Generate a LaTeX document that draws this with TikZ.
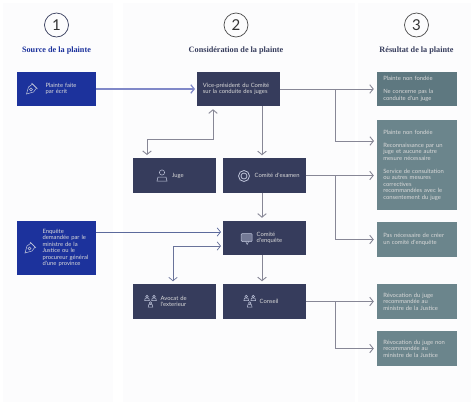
\documentclass[tikz,border=0pt]{standalone}
\usepackage{fontspec}
\setmainfont{Liberation Serif}
\newfontfamily\bodyfont{Lato}
\usetikzlibrary{arrows.meta, positioning, calc}
\definecolor{paper1}{RGB}{252, 252, 253}
\definecolor{blue1}{RGB}{28, 50, 156}
\definecolor{navy1}{RGB}{54, 60, 92}
\definecolor{teal1}{RGB}{94, 120, 128}
\definecolor{teal2}{RGB}{107, 133, 140}
\definecolor{line1}{RGB}{135, 135, 150}
\definecolor{line2}{RGB}{128, 136, 200}
\definecolor{line3}{RGB}{92, 106, 156}
\definecolor{stroke1}{RGB}{190, 196, 218}
\tikzset{
  pics/nib/.style={code={
    \draw[iconline] (-5,5) -- (-3,-2) -- (1,-5) -- (5,-1) -- (2,3) -- cycle;
    \draw[iconline] (0,-6) -- (6,0);
    \draw[iconline] (-0.5,0.5) circle (1.5);
  }},
  pics/person/.style={code={
    \draw[iconline] (0,-3) circle (2.6);
    \draw[iconline] (-5,5.5) -- (-4,1.5) -- (4,1.5) -- (5,5.5) -- cycle;
  }},
  pics/ringed/.style={code={
    \draw[iconline, line width=0.8pt] (0,0) circle (5.5);
    \draw[iconline, line width=0.8pt] (0,0) circle (3);
  }},
  pics/bubble/.style={code={
    \draw[iconline, fill=stroke1!45!navy1, rounded corners=1pt] (-5.5,-4.5) rectangle (5.5,3.5);
    \draw[iconline] (-1,3.5) -- (0.5,6.5) -- (2,3.5);
  }},
  pics/trio/.style={code={
    \foreach \cx/\cy in {-3.5/-4, 3.5/-4, 0/2.5} {
      \draw[iconline] (\cx,\cy-1.5) circle (1.3);
      \draw[iconline] (\cx-2.3,\cy+2.5) -- (\cx-1.8,\cy+0.2) -- (\cx+1.8,\cy+0.2) -- (\cx+2.3,\cy+2.5) -- cycle;
    }
  }}
}
\begin{document}
\begin{tikzpicture}[
  x=1pt, y=-1pt,
  iconline/.style={draw=stroke1, line width=0.5pt},
  column/.style={fill=paper1, draw=none},
  numcircle/.style={circle, draw=#1, line width=0.7pt, minimum size=24pt, inner sep=0pt, font=\bodyfont\fontsize{15}{15}\selectfont, text=black!80},
  heading/.style={font=\bfseries\fontsize{8.2}{9}\selectfont, text=#1},
  box/.style={minimum height=34.5pt, text width=#1, inner sep=0pt, align=left, text=white!85!black, font=\bodyfont\fontsize{5.85}{6.5}\selectfont},
  inset/.style={execute at begin node={\leftskip=#1pt\relax}},
  srcbox/.style={box=79pt, fill=blue1, inset=#1},
  midbox/.style={box=82.5pt, fill=navy1, inset=#1},
  resbox/.style={box=79.5pt, fill=teal2, inset=6.3},
  flow/.style={draw=line1, line width=0.9pt, -{Straight Barb[length=3.5pt,width=8.5pt]}, shorten >=3pt},
  twoway/.style={flow, {Straight Barb[length=3.5pt,width=8.5pt]}-{Straight Barb[length=3.5pt,width=8.5pt]}, shorten <=3pt}
]
  \useasboundingbox (0,0) rectangle (474,405);
  \fill[white] (0,0) rectangle (474,405);
  \fill[column] (3,3) rectangle (113,402);
  \fill[column] (123,3) rectangle (355,402);
  \fill[column] (358,3) rectangle (471,402);

  % column heads
  \node[numcircle=navy1] (one) at (56.5,25) {1};
  \node[numcircle=black!70] (two) at (236,25) {2};
  \node[numcircle=black!70] (three) at (416.5,25) {3};
  \node[heading=blue1] (sourcehead) at (56.5,51) {Source de la plainte};
  \node[heading=navy1] (considerhead) at (236,51) {Considération de la plainte};
  \node[heading=navy1] (resulthead) at (416.5,51) {Résultat de la plainte};

  % source
  \node[srcbox=28.5] (ecrit) at (56.5,89) {Plainte faite\\par écrit};
  \node[srcbox=25.5, minimum height=54pt] (demande) at (56.5,248) {Enquête\\demandée par le\\ministre de la\\Justice ou le\\procureur général\\d'une province};

  % consideration
  \node[midbox=5.7] (vp) at (238.5,89) {Vice-président du Comité\\sur la conduite des juges};
  \node[midbox=39] (juge) at (174.25,175.5) {Juge};
  \node[midbox=31.7] (examen) at (264.25,175.5) {Comité d'examen};
  \node[midbox=33.7] (enquete) at (264.25,238) {Comité\\d'enquête};
  \node[midbox=27.7] (avocat) at (174.25,301.5) {Avocat de\\l'exterieur};
  \node[midbox=36.7] (conseil) at (264.25,301.5) {Conseil};

  % results
  \node[resbox, fill=teal1] (nonfondee) at (416.75,89) {Plainte non fondée\\[6.5pt]Ne concerne pas la\\conduite d'un juge};
  \node[resbox, minimum height=90pt] (mesures) at (416.75,165) {Plainte non fondée\\[6.5pt]Reconnaissance par un\\juge et aucune autre\\mesure nécessaire\\[6.5pt]Service de consultation\\ou autres mesures\\correctives\\recommandées avec le\\consentement du juge};
  \node[resbox] (pascreer) at (416.75,239.5) {Pas nécessaire de créer\\un comité d'enquête};
  \node[resbox] (revoc) at (416.75,301.5) {Révocation du juge\\recommandée au\\ministre de la Justice};
  \node[resbox] (nonrevoc) at (416.75,348.5) {Révocation du juge non\\recommandée au\\ministre de la Justice};

  % icons
  \pic at (31.5,89) {nib};
  \pic at (30,248) {nib};
  \pic at (162,175.5) {person};
  \pic at (244,176) {ringed};
  \pic at (246.7,238) {bubble};
  \pic at (150.5,302) {trio};
  \pic at (249.7,302) {trio};

  % connector ends
  \coordinate (splitvp) at (335.5,89);
  \coordinate (mesurestop) at (377,141);
  \coordinate (splitexamen) at (335.5,175.5);
  \coordinate (splitconseil) at (335.5,301.5);
  \coordinate (vpfoot) at (213,106.25);
  \coordinate (jugetop) at (147,158);
  \coordinate (demandeport) at (96,232);
  \coordinate (enqueteport) at (223,232);
  \coordinate (enqueteside) at (223,246);
  \coordinate (avocatport) at (173,284.25);
  \coordinate (vpdown) at (262,106.25);
  \coordinate (examenup) at (262,158.25);
  \coordinate (examendown) at (262,192.75);
  \coordinate (enqueteup) at (262,220.75);
  \coordinate (enquetedown) at (262,255.25);
  \coordinate (conseilup) at (262,284.25);

  \draw[flow, draw=line2, line width=1.2pt, shorten >=2pt] (ecrit) -- (vp);
  \draw[flow, draw=line3, line width=0.7pt, shorten >=2pt] (demandeport) -- (enqueteport);
  \draw[twoway] (vpfoot) -- ++(0,33) -| (jugetop);
  \draw[twoway, draw=line3!70!line1, line width=0.7pt, shorten >=2pt] (avocatport) |- (enqueteside);
  \draw[flow] (vpdown) -- (examenup);
  \draw[flow] (examendown) -- (enqueteup);
  \draw[flow] (enquetedown) -- (conseilup);
  \draw[flow] (vp) -- (nonfondee);
  \draw[flow] (splitvp) |- (mesurestop);
  \draw[flow] (examen.east) -- (examen.east -| mesures.west);
  \draw[flow] (splitexamen) |- (pascreer);
  \draw[flow] (conseil) -- (revoc);
  \draw[flow] (splitconseil) |- (nonrevoc);
\end{tikzpicture}
\end{document}
